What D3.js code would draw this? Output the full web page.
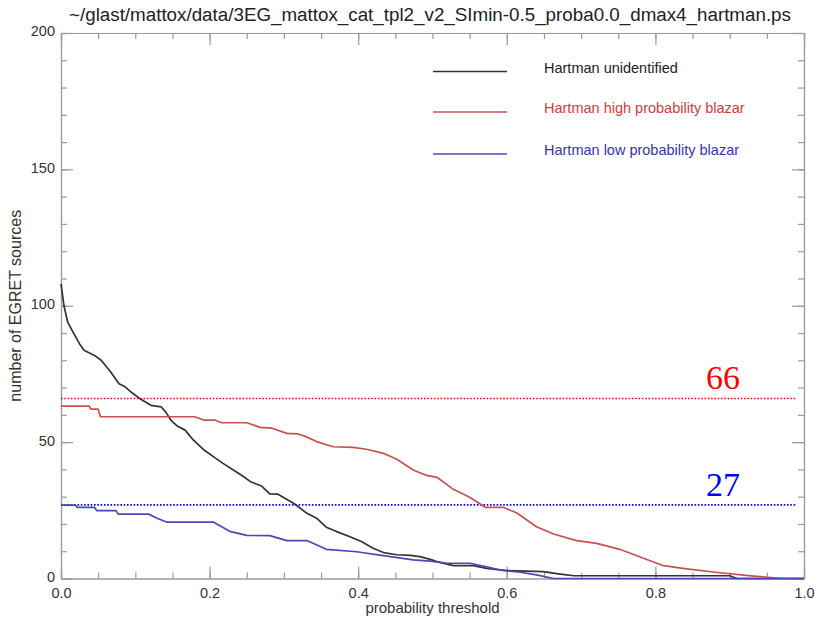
<!DOCTYPE html>
<html>
<head>
<meta charset="utf-8">
<script src="https://cdn.jsdelivr.net/npm/d3@7"></script>
<style>
  html, body { margin: 0; padding: 0; background: #fff; }
  svg { display: block; }
  text { font-family: "Liberation Sans", Arial, Helvetica, sans-serif; }
</style>
</head>
<body>
<svg id="chart" width="815" height="619"></svg>
<script>
// ---------- data ----------
const titleText = "~/glast/mattox/data/3EG_mattox_cat_tpl2_v2_SImin-0.5_proba0.0_dmax4_hartman.ps";
const xLabel = "probability threshold";
const yLabel = "number of EGRET sources";
const xTicks = [0.0, 0.2, 0.4, 0.6, 0.8, 1.0];
const yTicks = [0, 50, 100, 150, 200];
const seriesNames = ["Hartman unidentified", "Hartman high probability blazar", "Hartman low probability blazar"];

// [probability threshold, number of sources]
const unidentified = [
  [0.000,108],[0.004,100],[0.009,94],[0.016,90.4],[0.025,86],[0.031,83.7],[0.045,81.8],
  [0.054,80],[0.067,75.7],[0.078,71.4],[0.085,70.5],[0.096,68],[0.108,65.6],[0.121,63.5],
  [0.135,62.9],[0.141,61],[0.148,58],[0.157,55.8],[0.167,54.4],[0.178,50.8],[0.193,47],
  [0.206,44.5],[0.218,42.2],[0.232,39.8],[0.245,37.5],[0.255,35.5],[0.270,33.9],[0.281,31],
  [0.292,30.9],[0.313,27.6],[0.331,23.9],[0.344,22.1],[0.357,18.8],[0.371,17.2],[0.389,15.3],
  [0.405,13.5],[0.420,11.1],[0.434,9.5],[0.452,8.7],[0.470,8.5],[0.483,8.0],[0.497,7.0],
  [0.506,6.2],[0.528,4.7],[0.555,4.7],[0.573,3.7],[0.600,2.9],[0.649,2.5],[0.672,1.6],
  [0.690,1],[0.900,1],[0.910,0],[1.000,0]
];
const highProb = [
  [0.000,63.2],[0.038,63.2],[0.040,62.1],[0.050,62.1],[0.053,59.3],[0.180,59.3],[0.192,58.1],
  [0.207,58.1],[0.216,57.1],[0.250,57.1],[0.268,55.4],[0.284,55.1],[0.304,53.2],[0.319,53.0],
  [0.328,52.2],[0.344,50.2],[0.366,48.3],[0.393,48.1],[0.411,47.4],[0.434,45.9],[0.452,43.7],
  [0.474,39.8],[0.483,38.8],[0.492,37.8],[0.506,37.1],[0.528,32.7],[0.550,29.8],[0.571,26.1],
  [0.595,26.1],[0.613,24.1],[0.640,19.0],[0.663,16.3],[0.694,13.9],[0.721,12.9],[0.752,10.7],
  [0.784,7.4],[0.811,4.7],[0.842,3.5],[0.887,2.1],[0.932,0.9],[0.968,0.1],[1.000,0]
];
const lowProb = [
  [0.000,26.9],[0.019,26.9],[0.022,26.1],[0.045,26.1],[0.048,24.9],[0.074,24.9],[0.077,23.6],
  [0.118,23.6],[0.130,22],[0.142,20.7],[0.205,20.7],[0.227,17.3],[0.250,15.8],[0.281,15.7],
  [0.304,13.9],[0.331,13.9],[0.357,10.7],[0.398,9.8],[0.429,8.6],[0.474,6.8],[0.497,6.4],
  [0.519,5.6],[0.550,5.6],[0.573,4.3],[0.591,3.1],[0.618,2.3],[0.640,1.3],[0.663,0],[1.000,0]
];
const refValues = [66, 27];
const refLabels = ["66", "27"];

// ---------- styles ----------
const lineColors = ["#333333", "#c85050", "#4848b8"];
const legendTextColors = ["#222222", "#d03c3c", "#3434b0"];
const refColors = ["#ff0000", "#0000ff"];
const axisColor = "#9a9a9a";
const labelColor = "#333333";

const L = 61, R = 804, T = 33, B = 578.5;
const svg = d3.select("#chart");

const x = d3.scaleLinear().domain([0, 1]).range([L, R]);
const y = d3.scaleLinear().domain([0, 200]).range([B, T]);

// ---------- axes (IDL style, ticks inward on all four sides) ----------
const majorLen = 12, minorLen = 6;
const xMinor = d3.range(0, 1.0001, 0.05).map(v => +v.toFixed(2));
const yMinor = d3.range(0, 201, 10);

function axisG(axisFn, tx, ty) {
  const g = svg.append("g").attr("transform", `translate(${tx},${ty})`).call(axisFn);
  g.selectAll("path, line").attr("stroke", axisColor).attr("stroke-width", 1.2);
  g.selectAll("text").attr("fill", labelColor).style("font-size", "14.5px")
    .style("font-family", '"Liberation Sans", Arial, sans-serif');
  return g;
}
// bottom
axisG(d3.axisBottom(x).tickValues(xMinor).tickSize(-minorLen).tickSizeOuter(0).tickFormat(""), 0, B);
axisG(d3.axisBottom(x).tickValues(xTicks).tickSize(-majorLen).tickSizeOuter(0).tickPadding(9)
  .tickFormat(d3.format(".1f")), 0, B);
// top
axisG(d3.axisTop(x).tickValues(xMinor).tickSize(-minorLen).tickSizeOuter(0).tickFormat(""), 0, T);
axisG(d3.axisTop(x).tickValues(xTicks).tickSize(-majorLen).tickSizeOuter(0).tickFormat(""), 0, T);
// left
axisG(d3.axisLeft(y).tickValues(yMinor).tickSize(-minorLen).tickSizeOuter(0).tickFormat(""), L, 0);
const yAx = axisG(d3.axisLeft(y).tickValues(yTicks).tickSize(-majorLen).tickSizeOuter(0).tickPadding(6)
  .tickFormat(d3.format("d")), L, 0);
yAx.selectAll("text").attr("dy", "0.2em");
// right
axisG(d3.axisRight(y).tickValues(yMinor).tickSize(-minorLen).tickSizeOuter(0).tickFormat(""), R, 0);
axisG(d3.axisRight(y).tickValues(yTicks).tickSize(-majorLen).tickSizeOuter(0).tickFormat(""), R, 0);

// ---------- title and axis titles ----------
svg.append("text").attr("x", 430).attr("y", 21).attr("text-anchor", "middle")
  .attr("fill", "#222").style("font-size", "18.8px").text(titleText);
svg.append("text").attr("x", (L + R) / 2).attr("y", 613).attr("text-anchor", "middle")
  .attr("fill", labelColor).style("font-size", "15px").text(xLabel);
svg.append("text").attr("transform", `translate(21,${(T + B) / 2}) rotate(-90)`)
  .attr("text-anchor", "middle").attr("fill", labelColor).style("font-size", "16px").text(yLabel);

// ---------- reference dotted lines + labels ----------
refValues.forEach((v, i) => {
  svg.append("line").attr("x1", x(0)).attr("x2", x(0.99)).attr("y1", y(v)).attr("y2", y(v))
    .attr("stroke", refColors[i]).attr("stroke-width", 1.6).attr("stroke-dasharray", "1.6,1.7");
  svg.append("text").attr("x", x(0.868)).attr("y", y(v) - 9)
    .attr("fill", refColors[i]).style("font-family", '"Liberation Serif", "Times New Roman", serif')
    .style("font-size", "34px").text(refLabels[i]);
});

// ---------- series ----------
const line = d3.line().x(d => x(d[0])).y(d => y(d[1]));
[unidentified, highProb, lowProb].forEach((s, i) => {
  svg.append("path").datum(s).attr("d", line).attr("fill", "none")
    .attr("stroke", lineColors[i]).attr("stroke-width", 1.7).attr("stroke-linejoin", "round");
});

// ---------- legend ----------
const legendY = [71.5, 112, 154];
seriesNames.forEach((name, i) => {
  svg.append("line").attr("x1", 433).attr("x2", 507).attr("y1", legendY[i]).attr("y2", legendY[i])
    .attr("stroke", lineColors[i]).attr("stroke-width", 1.5);
  svg.append("text").attr("x", 544).attr("y", legendY[i] + 1).attr("fill", legendTextColors[i])
    .style("font-size", "14.5px").text(name);
});
</script>
</body>
</html>
